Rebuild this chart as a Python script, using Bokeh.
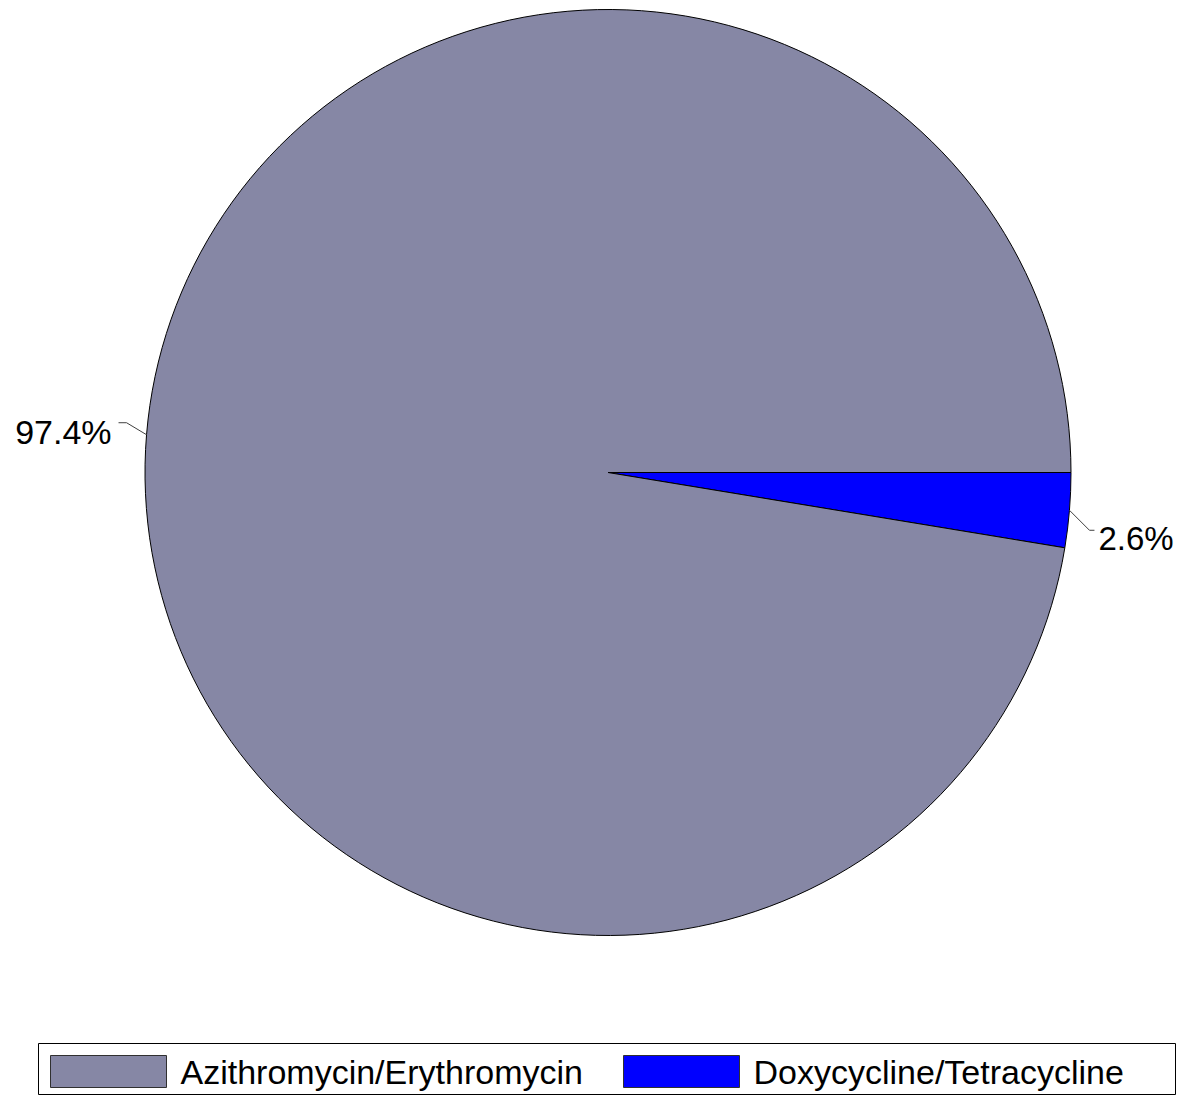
import numpy as np
from bokeh.plotting import figure
from bokeh.models import Range1d, ColumnDataSource
from bokeh.core.properties import value
from bokeh.embed import file_html
from bokeh.resources import INLINE

# ---- data ----
categories = ["Doxycycline/Tetracycline", "Azithromycin/Erythromycin"]
shares = [2.6, 97.4]
colors = ["#0000FF", "#8687A5"]
labels = ["2.6%", "97.4%"]
legend_order = ["Azithromycin/Erythromycin", "Doxycycline/Tetracycline"]

W, H = 1176, 1095
# data coords: x = pixel x, y = 1111 - pixel y
p = figure(width=W, height=H, output_backend="svg", toolbar_location=None,
           x_range=Range1d(0, W), y_range=Range1d(1111 - H, 1111),
           min_border=0)
p.axis.visible = False
p.grid.visible = False
p.outline_line_color = None
p.background_fill_color = "white"

cx, cy, r = 607.5, 1111 - 472, 463

frac = np.array(shares) / sum(shares)
cum = np.cumsum(frac)
prev = np.concatenate([[0], cum[:-1]])
start = -prev * 2 * np.pi
end = -cum * 2 * np.pi
mid = (start + end) / 2

src = ColumnDataSource(dict(start=start, end=end, color=colors, name=categories))
p.wedge(x=cx, y=cy, radius=r, start_angle="start", end_angle="end",
        direction="clock", fill_color="color", line_color="black",
        line_width=1, source=src)

# leader lines + labels
font = value("Liberation Sans")
for m, lab in zip(mid, labels):
    px = cx + r * np.cos(m)
    py = cy + r * np.sin(m)
    side = 1 if np.cos(m) >= 0 else -1
    ex = px + side * 20
    ey = py - 20 if side > 0 else py + 12
    hx = ex + side * (5 if side > 0 else 8)
    p.line([px, ex, hx], [py, ey, ey], line_color="#404040", line_width=1)
    p.text(x=[hx + side * (4 if side > 0 else 7)], y=[ey - (8 if side > 0 else 9)],
           text=[lab], text_font=font,
           text_font_size="33px" if side > 0 else "34px", text_color="black",
           text_align="left" if side > 0 else "right", text_baseline="middle")

# legend (manual)
ly_top, ly_bot = 1111 - 1043, 1111 - 1094
p.quad(left=[38], right=[1175], top=[ly_top], bottom=[ly_bot],
       fill_color="white", line_color="black", line_width=1)
sw_left = [50, 623]
cmap = dict(zip(categories, colors))
for xl, name in zip(sw_left, legend_order):
    p.quad(left=[xl], right=[xl + 116], top=[1111 - 1055], bottom=[1111 - 1087],
           fill_color=cmap[name], line_color="#303030", line_width=1)
    p.text(x=[xl + 130], y=[1111 - 1071], text=[name], text_font=font,
           text_font_size="34px", text_color="black",
           text_align="left", text_baseline="middle")

open("out.html", "w").write(file_html(p, INLINE))
